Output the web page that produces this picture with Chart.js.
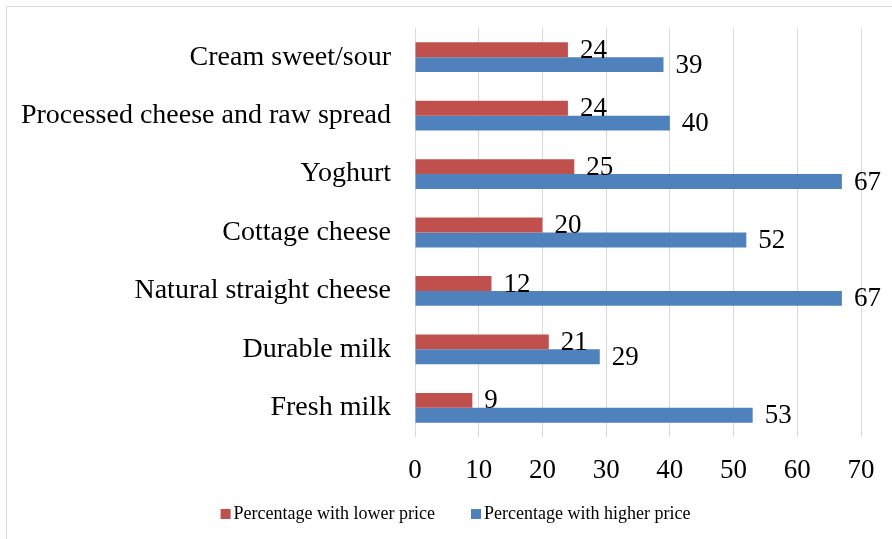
<!DOCTYPE html>
<html>
<head>
<meta charset="utf-8">
<style>
html,body{margin:0;padding:0;background:#fff;}
#wrap{width:892px;height:539px;position:relative;}
</style>
<script src="https://cdn.jsdelivr.net/npm/chart.js@4/dist/chart.umd.min.js"></script>
</head>
<body>
<div id="wrap"><canvas id="c" width="892" height="539"></canvas></div>
<script>
const categories = ["Cream sweet/sour","Processed cheese and raw spread","Yoghurt","Cottage cheese","Natural straight cheese","Durable milk","Fresh milk"];
const lowerPrice = [24,24,25,20,12,21,9];
const higherPrice = [39,40,67,52,67,29,53];
const xTicks = [0,10,20,30,40,50,60,70];
const seriesNames = ["Percentage with lower price","Percentage with higher price"];

const SERIF = "'Liberation Serif','Times New Roman',serif";

const frame = {
  id:'frame',
  beforeDraw(chart){
    const c = chart.ctx;
    c.save();
    c.fillStyle='#fff';
    c.fillRect(0,0,chart.width,chart.height);
    c.strokeStyle='#d9d9d9';
    c.lineWidth=1;
    c.beginPath();
    c.moveTo(6.5,chart.height);
    c.lineTo(6.5,6.5);
    c.lineTo(chart.width,6.5);
    c.stroke();
    c.restore();
  }
};

const valueLabels = {
  id:'valueLabels',
  afterDatasetsDraw(chart){
    const c = chart.ctx;
    c.save();
    c.font = "27px " + SERIF;
    c.fillStyle = '#000';
    c.textAlign='left';
    c.textBaseline='middle';
    chart.data.datasets.forEach((ds,i)=>{
      const meta = chart.getDatasetMeta(i);
      meta.data.forEach((el,j)=>{
        c.fillText(String(ds.data[j]), el.x + 12, el.y + 1);
      });
    });
    c.restore();
  }
};

const customLegend = {
  id:'customLegend',
  afterDraw(chart){
    const c = chart.ctx;
    c.save();
    c.font = "18px " + SERIF;
    c.textBaseline='middle';
    c.textAlign='left';
    const box = 10, gap = 3, itemGap = 36;
    const items = chart.data.datasets.map(ds=>({text:ds.label,color:ds.backgroundColor,w:c.measureText(ds.label).width}));
    let total = 0;
    items.forEach((it,i)=>{ total += box + gap + it.w + (i<items.length-1?itemGap:0); });
    let x = 455.5 - total/2;
    const y = 514;
    items.forEach(it=>{
      c.fillStyle = it.color;
      c.fillRect(x, y-5, box, box);
      c.fillStyle = '#000';
      c.fillText(it.text, x + box + gap, y);
      x += box + gap + it.w + itemGap;
    });
    c.restore();
  }
};

new Chart(document.getElementById('c'),{
  type:'bar',
  data:{
    labels:categories,
    datasets:[
      {label:seriesNames[0],data:lowerPrice,backgroundColor:'#C0504D',borderWidth:0},
      {label:seriesNames[1],data:higherPrice,backgroundColor:'#4F81BD',borderWidth:0}
    ]
  },
  options:{
    indexAxis:'y',
    responsive:false,
    animation:false,
    devicePixelRatio:1,
    layout:{padding:{top:28,right:31,bottom:44,left:0}},
    datasets:{bar:{categoryPercentage:0.51,barPercentage:1.0}},
    scales:{
      x:{
        min:0,max:70,
        afterBuildTicks(s){ s.ticks = xTicks.map(v=>({value:v})); },
        grid:{color:'#d9d9d9',lineWidth:1,drawTicks:false},
        border:{display:false},
        ticks:{font:{family:SERIF,size:27},color:'#000',padding:18},
        afterFit(s){ s.height = 58; s.paddingLeft = 0; s.paddingRight = 0; }
      },
      y:{
        grid:{display:false,drawTicks:false},
        border:{display:false},
        ticks:{font:{family:SERIF,size:28},color:'#000',padding:24,autoSkip:false},
        afterFit(s){ s.width = 415; s.paddingTop = 0; s.paddingBottom = 0; }
      }
    },
    plugins:{
      legend:{display:false},
      tooltip:{enabled:false}
    }
  },
  plugins:[frame,valueLabels,customLegend]
});
</script>
</body>
</html>
